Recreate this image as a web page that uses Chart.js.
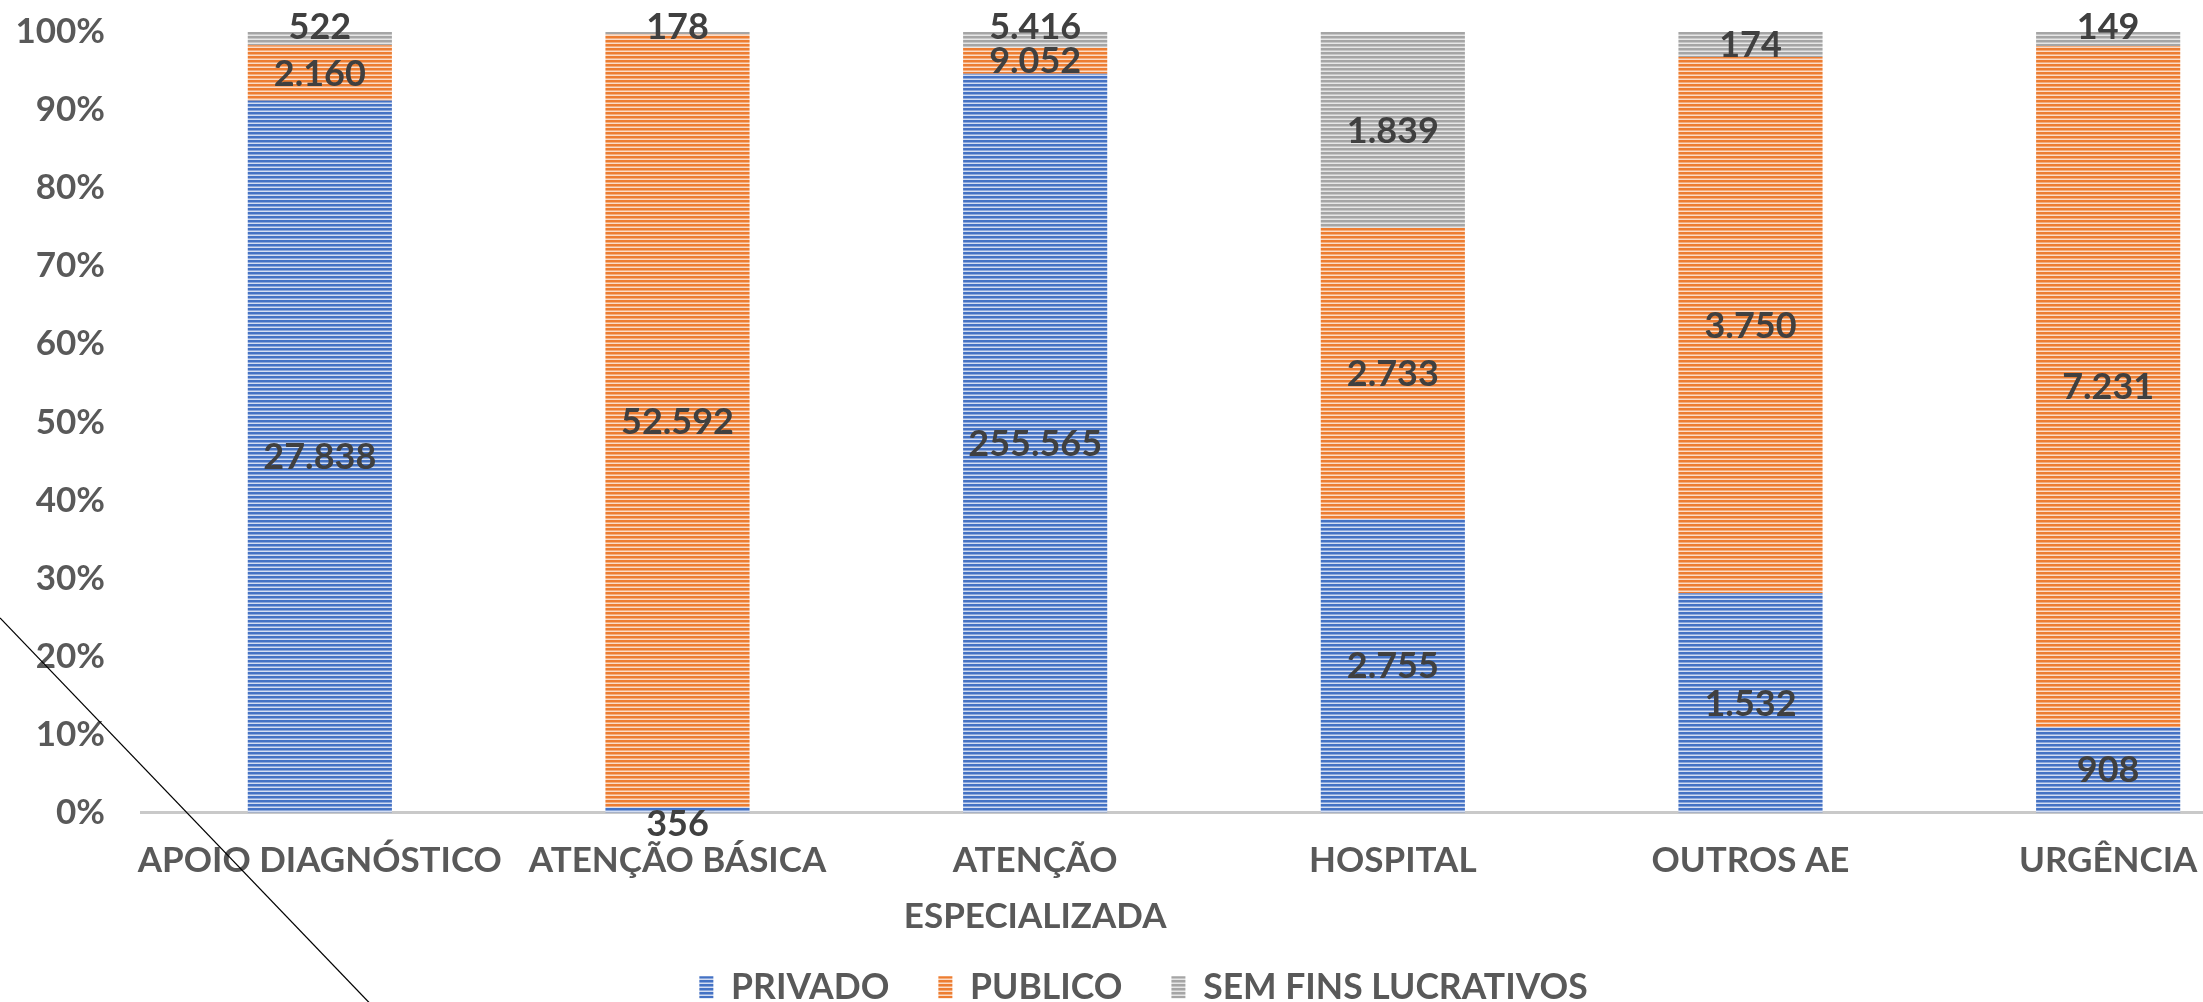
<!DOCTYPE html>
<html>
<head>
<meta charset="utf-8">
<script src="https://cdn.jsdelivr.net/npm/chart.js@4.4.1/dist/chart.umd.min.js"></script>
<style>
  html, body { margin: 0; padding: 0; background: #ffffff; overflow: hidden; }
  #wrap { width: 2300px; height: 1015px; }
</style>
</head>
<body>
<div id="wrap"><canvas id="c" width="2300" height="1015"></canvas></div>
<script>
// ---- data ----
const categories = ['APOIO DIAGNÓSTICO', 'ATENÇÃO BÁSICA', ['ATENÇÃO', 'ESPECIALIZADA'], 'HOSPITAL', 'OUTROS AE', 'URGÊNCIA'];
const seriesNames = ['PRIVADO', 'PUBLICO', 'SEM FINS LUCRATIVOS'];
const privado = [27838, 356, 255565, 2755, 1532, 908];
const publico = [2160, 52592, 9052, 2733, 3750, 7231];
const semFins = [522, 178, 5416, 1839, 174, 149];
const yTicks = [0, 10, 20, 30, 40, 50, 60, 70, 80, 90, 100];

const FONT = 'Lato';
const canvas = document.getElementById('c');
const ctx = canvas.getContext('2d');

function stripe(color, light) {
  const p = document.createElement('canvas');
  p.width = 4; p.height = 4;
  const x = p.getContext('2d');
  x.fillStyle = light; x.fillRect(0, 0, 4, 4);
  x.fillStyle = color; x.fillRect(0, 0, 4, 2);
  x.globalAlpha = 0.5; x.fillRect(0, 2, 4, 1);
  return ctx.createPattern(p, 'repeat');
}
const fills = [
  stripe('#4472C4', '#d3ddf2'),
  stripe('#ED7D31', '#fbdcc7'),
  stripe('#A5A5A5', '#e6e6e6')
];

const raw = [privado, publico, semFins];
const totals = privado.map((v, i) => privado[i] + publico[i] + semFins[i]);
const share = raw.map(arr => arr.map((v, i) => v / totals[i] * 100));

function fmt(v) { return String(v).replace(/\B(?=(\d{3})+(?!\d))/g, '.'); }

const valueLabels = {
  id: 'valueLabels',
  afterDatasetsDraw(chart) {
    const c = chart.ctx;
    c.save();
    c.font = 'bold 36px ' + FONT;
    c.fillStyle = '#404040';
    c.textAlign = 'center';
    c.textBaseline = 'middle';
    const n = chart.data.datasets.length;
    chart.data.datasets.forEach((ds, di) => {
      const meta = chart.getDatasetMeta(di);
      meta.data.forEach((bar, j) => {
        const top = Math.min(bar.y, bar.base), bottom = Math.max(bar.y, bar.base);
        const h = bottom - top;
        let y = (top + bottom) / 2;
        if (h < 22) {
          if (di === n - 1) y = top - 6;
          else if (di === 0) y = bottom + 11;
        }
        c.fillText(fmt(raw[di][j]), bar.x, y + 1);
      });
    });
    c.restore();
  }
};

const diagonal = {
  id: 'diagonal',
  afterDraw(chart) {
    const c = chart.ctx;
    c.save();
    c.strokeStyle = '#000000';
    c.lineWidth = 1.2;
    c.beginPath();
    c.moveTo(0, 618);
    c.lineTo(381, 1015);
    c.stroke();
    c.restore();
  }
};

new Chart(ctx, {
  type: 'bar',
  data: {
    labels: categories,
    datasets: seriesNames.map((name, i) => ({
      label: name,
      data: share[i],
      backgroundColor: fills[i],
      borderWidth: 0,
      barPercentage: 0.403,
      categoryPercentage: 1.0
    }))
  },
  options: {
    responsive: false,
    animation: false,
    devicePixelRatio: 1,
    layout: { padding: { top: 32, right: 13, bottom: 0, left: 0 } },
    scales: {
      x: {
        stacked: true,
        grid: { display: false, drawTicks: false },
        border: { display: true, color: '#c9c9c9', width: 3 },
        ticks: {
          autoSkip: false, maxRotation: 0, minRotation: 0,
          padding: 20,
          color: '#595959',
          font: { family: FONT, size: 35, weight: 'bold', lineHeight: 1.6 }
        },
        afterFit(scale) {
          scale.height = 108;
          scale._computeLabelArea = () => undefined;
        }
      },
      y: {
        stacked: true,
        min: 0, max: 100,
        afterBuildTicks(scale) { scale.ticks = yTicks.map(v => ({ value: v })); },
        grid: { display: false, drawTicks: false },
        border: { display: false },
        ticks: {
          padding: 36,
          color: '#595959',
          font: { family: FONT, size: 35, weight: 'bold' },
          callback: v => v + '%'
        },
        afterFit(scale) {
          scale.width = 141;
          scale.paddingTop = 0;
          scale.paddingBottom = 0;
        }
      }
    },
    plugins: {
      legend: {
        position: 'bottom',
        labels: {
          boxWidth: 14,
          boxHeight: 22,
          padding: 49,
          color: '#595959',
          font: { family: FONT, size: 35.5, weight: 'bold' }
        }
      },
      tooltip: { enabled: false }
    }
  },
  plugins: [valueLabels, diagonal]
});
</script>
</body>
</html>
